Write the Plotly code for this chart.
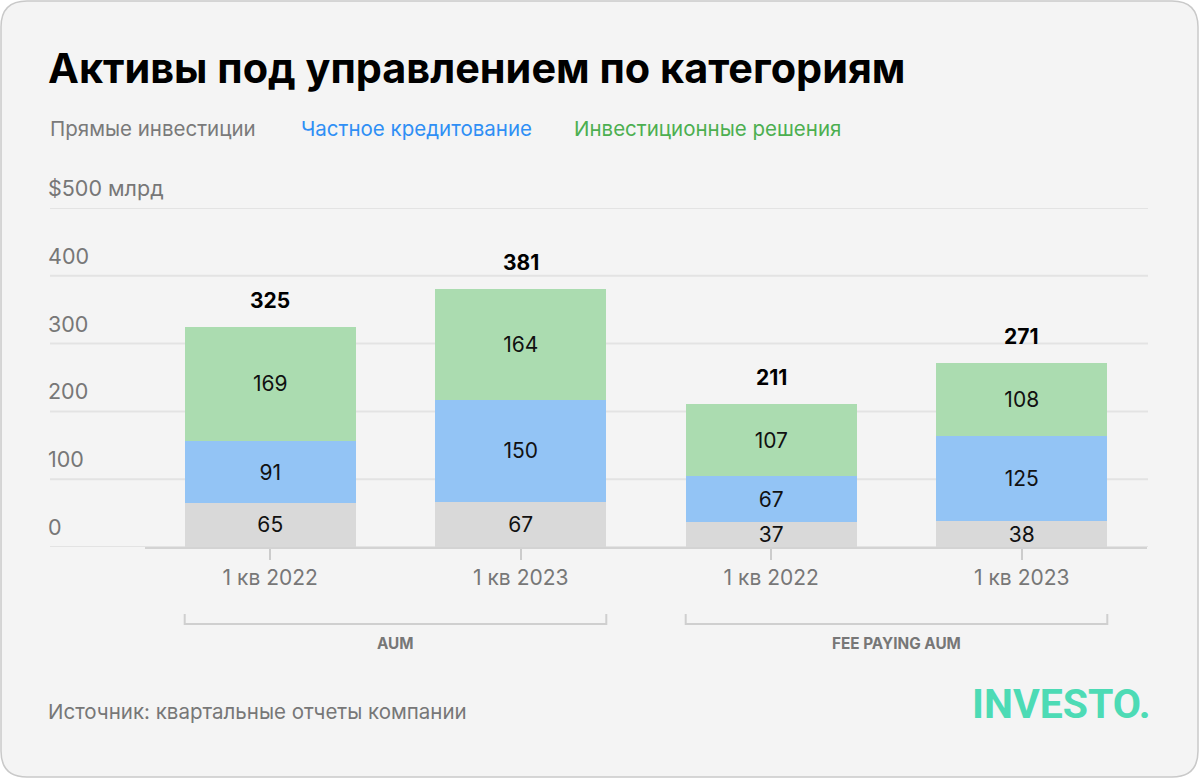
import plotly.graph_objects as go

# ---- data ----
categories = ["1 кв 2022", "1 кв 2023", "1 кв 2022", "1 кв 2023"]
groups = ["AUM", "FEE PAYING AUM"]
series_names = ["Прямые инвестиции", "Частное кредитование", "Инвестиционные решения"]
private_equity = [65, 67, 37, 38]
private_credit = [91, 150, 67, 125]
investment_solutions = [169, 164, 107, 108]
totals = [325, 381, 211, 271]
y_ticks = [0, 100, 200, 300, 400, 500]
y_tick_labels = ["0", "100", "200", "300", "400", "$500 млрд"]

W, H = 1200, 779
L, R, T, B = 145, 1147, 208, 547
FONT = "Inter, Roboto, Liberation Sans, sans-serif"
GRAY_TXT = "#777777"
colors = ["#d9d9d9", "#93c4f5", "#abdcb0"]
legend_colors = ["#7a7a7a", "#2f8ff5", "#4caf50"]


def px(x):
    return (x - L) / (R - L)


def py(y):
    return (B - y) / (B - T)


xs = list(range(len(categories)))
fig = go.Figure()
for name, vals, c in zip(series_names, [private_equity, private_credit, investment_solutions], colors):
    fig.add_trace(go.Bar(
        x=xs, y=vals, name=name, marker=dict(color=c, line=dict(width=0)),
        text=[str(v) for v in vals], textposition="inside", insidetextanchor="middle",
        textangle=0, constraintext="none",
        textfont=dict(family=FONT, size=21, color="#111111"),
        hoverinfo="skip",
    ))

shapes = []
# card
x0, x1, y0, y1, r = 1, 1198, 1, 777, 26
def P(x, y):
    return f"{px(x)},{py(y)}"
card = (f"M {P(x0 + r, y0)} L {P(x1 - r, y0)} Q {P(x1, y0)} {P(x1, y0 + r)} "
        f"L {P(x1, y1 - r)} Q {P(x1, y1)} {P(x1 - r, y1)} L {P(x0 + r, y1)} "
        f"Q {P(x0, y1)} {P(x0, y1 - r)} L {P(x0, y0 + r)} Q {P(x0, y0)} {P(x0 + r, y0)} Z")
shapes.append(dict(type="path", path=card, xref="paper", yref="paper",
                   fillcolor="#f4f4f4", line=dict(color="#c9c9c9", width=1.5), layer="below"))
# gridlines
for v in y_ticks:
    shapes.append(dict(type="line", xref="paper", yref="y", x0=px(50), x1=px(1148), y0=v, y1=v,
                       line=dict(color="#e3e3e3", width=2), layer="below"))
# brackets
half = 0.3415
yb_top, yb_line = py(614), py(624)
for g in range(len(groups)):
    a, b = 2 * g - half, 2 * g + 1 + half
    shapes.append(dict(type="path", xref="x", yref="paper",
                       path=f"M {a},{yb_top} L {a},{yb_line} L {b},{yb_line} L {b},{yb_top}",
                       line=dict(color="#cfcfcf", width=2)))

ann = []
# title
ann.append(dict(text="<b>Активы под управлением по категориям</b>", x=px(46), y=py(68),
                xref="paper", yref="paper", xanchor="left", yanchor="middle", showarrow=False,
                font=dict(family=FONT, size=41.4, color="#000000")))
# legend
legend_x = [48, 299, 572]
for name, c, lx in zip(series_names, legend_colors, legend_x):
    ann.append(dict(text=name, x=px(lx), y=py(128), xref="paper", yref="paper",
                    xanchor="left", yanchor="middle", showarrow=False,
                    font=dict(family=FONT, size=20.5, color=c)))
# y tick labels
for v, t in zip(y_ticks, y_tick_labels):
    ann.append(dict(text=t, x=px(46), y=v, xref="paper", yref="y", xanchor="left",
                    yanchor="bottom", yshift=5, showarrow=False,
                    font=dict(family=FONT, size=21.5, color=GRAY_TXT)))
# totals
for x, t in zip(xs, totals):
    ann.append(dict(text=f"<b>{t}</b>", x=x, y=t, xref="x", yref="y", yanchor="bottom",
                    yshift=12, showarrow=False, font=dict(family=FONT, size=21, color="#000000")))
# group labels
for g, name in enumerate(groups):
    ann.append(dict(text=f"<b>{name}</b>", x=2 * g + 0.5, y=py(643), xref="x", yref="paper",
                    yanchor="middle", showarrow=False,
                    font=dict(family=FONT, size=15.3, color=GRAY_TXT)))
# source
ann.append(dict(text="Источник: квартальные отчеты компании", x=px(46), y=py(711),
                xref="paper", yref="paper", xanchor="left", yanchor="middle", showarrow=False,
                font=dict(family=FONT, size=20.5, color=GRAY_TXT)))
# logo
ann.append(dict(text="<b>INVESTO.</b>", x=px(1153), y=py(704), xref="paper", yref="paper",
                xanchor="right", yanchor="middle", showarrow=False,
                font=dict(family="Roboto, Liberation Sans, sans-serif", size=41, color="#4ddbb5")))

fig.update_layout(
    width=W, height=H, barmode="stack", bargap=0.317, showlegend=False,
    margin=dict(l=L, r=W - R, t=T, b=H - B, pad=0),
    paper_bgcolor="#ffffff", plot_bgcolor="rgba(0,0,0,0)",
    shapes=shapes, annotations=ann,
    xaxis=dict(range=[-0.5, 3.5], tickvals=xs, ticktext=categories, showgrid=False,
               zeroline=False, showline=True, linecolor="#d3d3d3", linewidth=2,
               ticks="outside", ticklen=11, tickwidth=1.5, tickcolor="#cccccc",
               tickfont=dict(family=FONT, size=21, color=GRAY_TXT), fixedrange=True),
    yaxis=dict(range=[0, 500], showgrid=False, zeroline=False, showticklabels=False,
               fixedrange=True),
)
fig.write_html("out.html", config={"displayModeBar": False},
               post_script="document.body.style.margin='0';")
